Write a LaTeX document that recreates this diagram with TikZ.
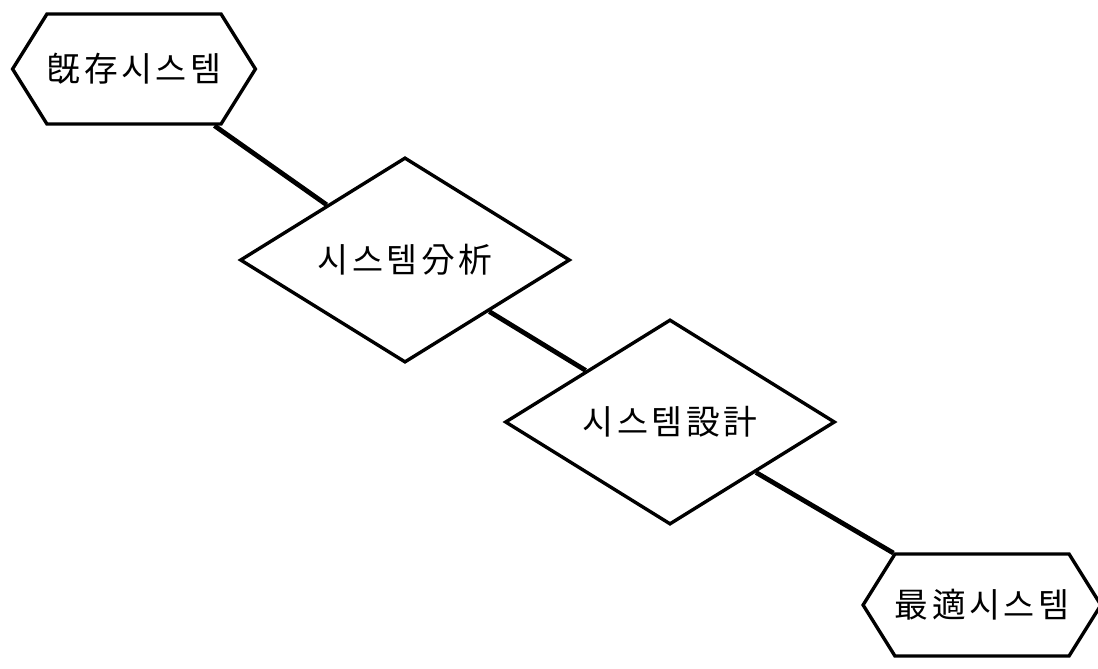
\documentclass[tikz,border=0pt]{standalone}
\usepackage{fontspec}
\newfontfamily\kor[LetterSpace=10]{Noto Sans CJK KR}
\usetikzlibrary{positioning,shapes.geometric,shapes.symbols}

\begin{document}
\begin{tikzpicture}[
  font=\kor\fontsize{24}{28}\selectfont,
  hexa/.style={draw, line width=2.4pt, shape=signal, signal to=west and east,
               signal pointer angle=116, minimum width=5.8cm,
               minimum height=2.75cm, inner sep=0pt},
  dia/.style={draw, line width=2.4pt, diamond, minimum width=8.25cm,
              minimum height=4.9cm, inner sep=0pt},
  link/.style={line width=3.4pt},
  node distance=4cm and 6cm, on grid,
]
\useasboundingbox (0,0) rectangle (27.45,-16.7);

\node[hexa] (old) at (3.35,-1.725) {旣存시스템};
\node[dia, below right=4.775cm and 6.775cm of old] (anal) {시스템分析};
\node[dia, below right=4.05cm and 6.625cm of anal, minimum height=4.7cm] (design) {시스템設計};
\node[hexa, below right=4.575cm and 7.8cm of design, minimum width=5.7cm,
      minimum height=2.55cm] (best) {最適시스템};

\draw[link] (old)--(anal);
\draw[link] (anal)--(design);
\draw[link] (design)--(best);
\end{tikzpicture}
\end{document}
